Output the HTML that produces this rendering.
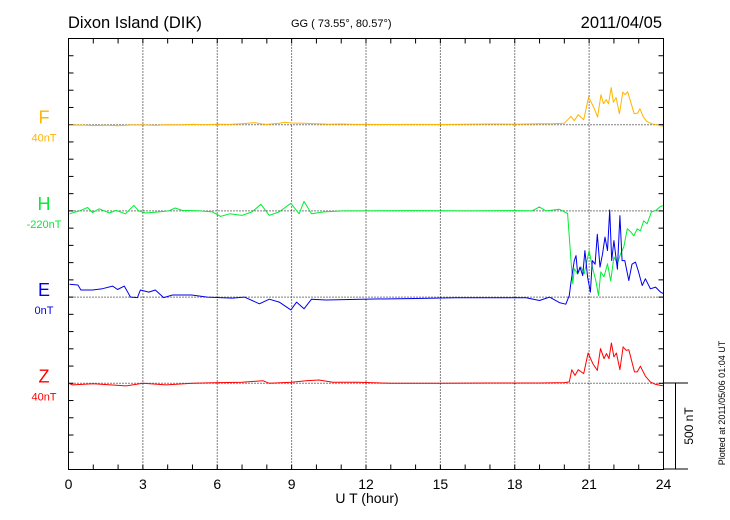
<!DOCTYPE html>
<html><head><meta charset="utf-8">
<style>
html,body{margin:0;padding:0;background:#fff;}
svg{display:block;font-family:"Liberation Sans",sans-serif;}
</style></head>
<body>
<svg id="chart" width="730" height="520" viewBox="0 0 730 520" xmlns="http://www.w3.org/2000/svg">
<text x="68" y="28" font-size="16.5">Dixon Island (DIK)</text>
<text x="291" y="27" font-size="11">GG ( 73.55°,  80.57°)</text>
<text x="662" y="28" font-size="16.5" text-anchor="end">2011/04/05</text>
<g id="grid"></g>
<g id="series"></g>
<rect x="68.5" y="38.5" width="595" height="431" fill="none" stroke="#000" stroke-width="1"/>
<g id="labels"></g>
<text x="367" y="503" font-size="14" text-anchor="middle">U T (hour)</text>
<g stroke="#000" stroke-width="1">
<line x1="663" y1="383" x2="688" y2="383"/><line x1="663" y1="469" x2="688" y2="469"/><line x1="675.5" y1="383" x2="675.5" y2="469"/>
</g>
<text transform="translate(693,426) rotate(-90)" font-size="12" text-anchor="middle">500 nT</text>
<text transform="translate(725,403) rotate(-90)" font-size="9" text-anchor="middle">Plotted at 2011/05/06 01:04 UT</text>
</svg>
<script>
const xTicks=[0,3,6,9,12,15,18,21,24];
const fTimes=[0,0.5,1,1.5,2,2.5,3,3.5,4,4.5,5,5.5,6,6.5,7,7.5,7.8,8,8.5,8.7,9,9.5,10,10.5,11,11.5,12,13,14,15,16,17,18,19,19.5,20,20.27,20.4,20.56,20.78,20.98,21.18,21.34,21.48,21.58,21.69,21.78,21.89,21.98,22.09,22.22,22.36,22.45,22.55,22.68,22.82,22.96,23.05,23.19,23.32,23.52,23.86,24];
const fValues=[-3,-2,-5,-3,-6,-2,-1,-4,0,-1,2,0,3,2,6,12,4,2,8,14,10,8,6,3,4,2,2,1,2,1,3,4,3,5,6,8,49,23,58,29,160,102,44,174,122,145,122,215,130,157,64,189,174,191,130,64,67,93,44,20,6,-6,-8];
const hTimes=[0.04,0.44,0.77,0.97,1.24,1.65,1.92,2.3,2.64,2.84,3.1,3.65,4.05,4.3,4.6,5.28,5.8,6.14,6.5,7.0,7.4,7.76,8.1,8.5,8.97,9.3,9.5,9.8,10.3,11.1,12,14,16,18,18.7,18.99,19.26,19.8,20.13,20.27,20.34,20.4,20.54,20.67,20.8,21.0,21.13,21.27,21.38,21.47,21.6,21.74,21.87,22.0,22.14,22.27,22.4,22.54,22.68,22.8,22.94,23.07,23.2,23.34,23.51,23.68,23.88,24];
const hValues=[-17,0,20,-9,12,-12,3,-17,32,0,-12,-6,0,17,3,0,-6,-32,-17,-26,-6,38,-26,-6,44,-17,55,-17,-6,0,0,2,0,2,0,23,0,9,-15,-290,-423,-336,-365,-325,-365,-230,-325,-404,-491,-354,-383,-307,-406,-267,-307,-249,-209,-104,-122,-145,-104,-116,-58,-75,-6,2,26,30];
const eTimes=[0.04,0.38,0.5,0.97,1.37,1.78,1.98,2.25,2.5,2.78,2.9,3.24,3.5,3.84,4.2,4.97,5.6,6.6,7.1,7.7,8.1,8.5,8.97,9.2,9.5,9.8,10.4,11.8,14,15.6,18.46,19,19.4,19.8,20.06,20.2,20.27,20.4,20.47,20.54,20.63,20.74,20.83,20.94,21.05,21.13,21.24,21.33,21.44,21.54,21.64,21.74,21.83,21.91,22.0,22.14,22.24,22.33,22.44,22.6,22.73,22.87,22.98,23.14,23.27,23.47,23.68,23.88,24];
const eValues=[74,70,41,41,49,64,44,64,0,-3,41,29,41,-3,12,12,0,-6,0,-39,-12,-29,-74,-29,-68,-12,-17,-12,-8,-4,-4,-20,0,-32,-41,10,87,212,241,135,174,125,270,116,29,212,191,365,174,249,348,270,505,212,328,162,473,212,212,96,191,203,154,67,106,48,58,29,20];
const zTimes=[0,0.17,1,2.32,3,3.94,5,5.82,7,7.84,8.1,9,9.59,10.1,10.66,11.7,13,15,17,19,20,20.2,20.3,20.43,20.56,20.78,20.96,21.15,21.33,21.46,21.6,21.7,21.8,21.9,22.0,22.1,22.24,22.37,22.5,22.6,22.83,22.94,23.07,23.27,23.47,23.67,23.88,24];
const zValues=[0,-9,-3,-15,0,-9,0,3,6,15,0,6,15,19,6,6,0,0,2,2,4,8,79,46,79,56,176,114,75,201,143,172,143,234,153,176,79,211,191,195,66,66,99,41,8,-6,-12,-14];

const X0=68.5,X1=663.5,Y0=38.5,Y1=469.5;
const NT_PX=431/2500;
function xs(t){return X0+(t/24)*(X1-X0);}
function ys(base,v){return base-v*NT_PX;}
const NS="http://www.w3.org/2000/svg";
function mk(tag,attrs,parent){const e=document.createElementNS(NS,tag);for(const k in attrs)e.setAttribute(k,attrs[k]);parent.appendChild(e);return e;}
const grid=document.getElementById('grid');
const baseF=Y0+5*431/25,baseH=Y0+10*431/25,baseE=Y0+15*431/25,baseZ=Y0+20*431/25;
xTicks.slice(1,-1).forEach(t=>{
 const l=mk('line',{x1:xs(t),x2:xs(t),y1:Y0,y2:Y1,stroke:'#000','stroke-width':1,'stroke-dasharray':'1,2'},grid);
 
 
});
[baseF,baseH,baseE,baseZ].forEach(b=>{
 const l=mk('line',{x1:X0,x2:X1,y1:b,y2:b,stroke:'#000','stroke-width':1,'stroke-dasharray':'1,2'},grid);
 
 
});
for(let h=1;h<24;h++){
 const x=xs(h);
 const a=mk('line',{x1:x,x2:x,y1:Y0,y2:Y0+5,stroke:'#000'},grid);
 
 
 const b=mk('line',{x1:x,x2:x,y1:Y1-5,y2:Y1,stroke:'#000'},grid);
 
 
}
for(let i=1;i<25;i++){
 const y=Y0+i*431/25;
 const a=mk('line',{x1:X0,x2:X0+5,y1:y,y2:y,stroke:'#000'},grid);
 
 
 const b=mk('line',{x1:X1-5,x2:X1,y1:y,y2:y,stroke:'#000'},grid);
 
 
}
const labels=document.getElementById('labels');
xTicks.forEach(t=>{
 const tx=mk('text',{x:xs(t),y:489,'font-size':14,'text-anchor':'middle'},labels);
 tx.textContent=String(t);
 
 
});
const ser=document.getElementById('series');
const defs=[
 {n:'F',t:fTimes,v:fValues,b:baseF,c:'#ffb400',sub:'40nT'},
 {n:'H',t:hTimes,v:hValues,b:baseH,c:'#00ee33',sub:'-220nT'},
 {n:'E',t:eTimes,v:eValues,b:baseE,c:'#0000ee',sub:'0nT'},
 {n:'Z',t:zTimes,v:zValues,b:baseZ,c:'#ff0000',sub:'40nT'}
];
defs.forEach(d=>{
 const pts=d.t.map((t,i)=>xs(t).toFixed(1)+','+ys(d.b,d.v[i]).toFixed(1)).join(' ');
 const p=mk('polyline',{points:pts,fill:'none',stroke:d.c,'stroke-width':1,'stroke-linejoin':'round'},ser);
 
 
 const L=mk('text',{x:44,y:d.b-1,'font-size':18,'text-anchor':'middle',fill:d.c},labels);
 L.textContent=d.n;
 
 
 const S=mk('text',{x:44,y:d.b+17,'font-size':11,'text-anchor':'middle',fill:d.c},labels);
 S.textContent=d.sub;
 
 
});
</script>
</body></html>
